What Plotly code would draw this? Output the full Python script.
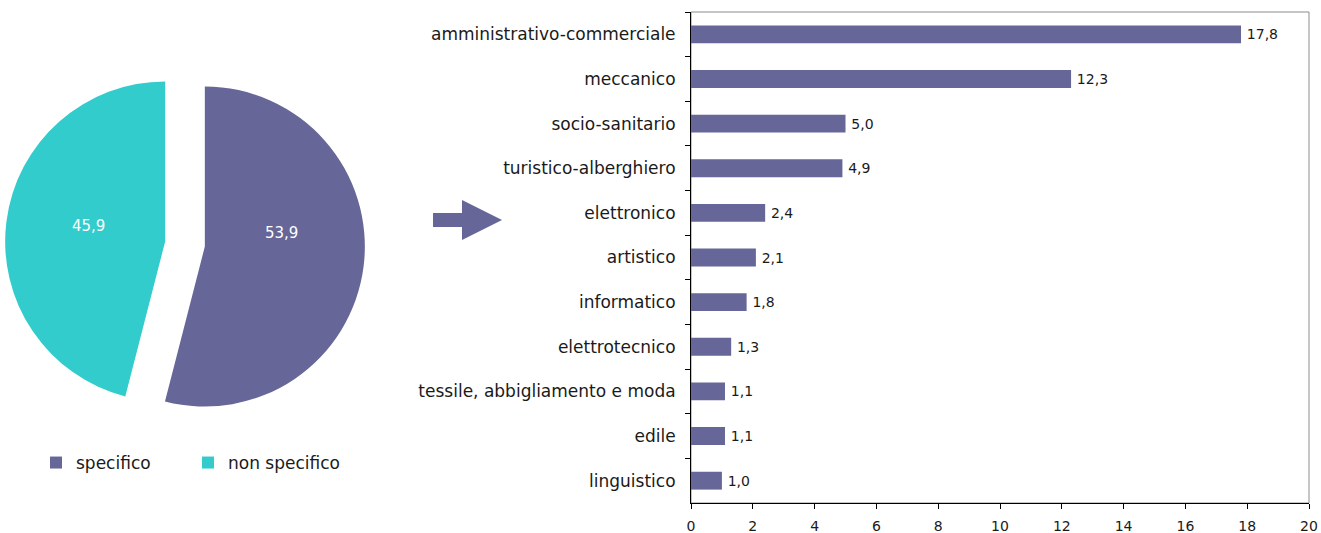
import plotly.graph_objects as go

# Share of students by type of diploma
pie_labels = ["specifico", "non specifico"]
pie_values = [53.9, 45.9]
pie_colors = ["#666699", "#33CCCC"]

# Breakdown of the "specifico" share by field
fields = [
    "amministrativo-commerciale",
    "meccanico",
    "socio-sanitario",
    "turistico-alberghiero",
    "elettronico",
    "artistico",
    "informatico",
    "elettrotecnico",
    "tessile, abbigliamento e moda",
    "edile",
    "linguistico",
]
field_values = [17.8, 12.3, 5.0, 4.9, 2.4, 2.1, 1.8, 1.3, 1.1, 1.1, 1.0]
x_ticks = list(range(0, 21, 2))

W, H = 1321, 533
FONT = "DejaVu Sans"
TEXT = "#1a1a1a"
PURPLE = "#666699"


def fmt(v):
    return f"{v:.1f}".replace(".", ",")


def px(x, y):
    """Pixel position -> paper coordinates."""
    return x / W, 1 - y / H


fig = go.Figure()

fig.add_trace(go.Pie(
    labels=pie_labels,
    values=pie_values,
    textinfo="none",
    marker=dict(colors=pie_colors, line=dict(width=0)),
    sort=False,
    direction="clockwise",
    rotation=0,
    pull=[0.125, 0.125],
    domain=dict(x=[5 / W, 365 / W], y=[1 - 426 / H, 1 - 62 / H]),
    hoverinfo="label+value",
    showlegend=True,
))

fig.add_trace(go.Bar(
    x=field_values,
    y=fields,
    orientation="h",
    width=0.4,
    marker=dict(color=PURPLE, line=dict(width=0)),
    text=["\u2009" + fmt(v) for v in field_values],
    textposition="outside",
    textfont=dict(family=FONT, size=14, color=TEXT),
    cliponaxis=False,
    showlegend=False,
    xaxis="x",
    yaxis="y",
))

# Slice value labels placed on each slice
pie_label_pos = [(281, 233), (88, 226)]
annotations = []
for v, (ax, ay) in zip(pie_values, pie_label_pos):
    xp, yp = px(ax, ay)
    annotations.append(dict(
        x=xp, y=yp, xref="paper", yref="paper", text=fmt(v), showarrow=False,
        font=dict(family=FONT, size=15, color="white"),
        xanchor="center", yanchor="middle",
    ))

# Arrow leading from the pie to the breakdown
pts = [(433, 213), (462, 213), (462, 200), (502, 220), (462, 240), (462, 227), (433, 227)]
path = "M " + " L ".join(f"{px(a, b)[0]:.5f},{px(a, b)[1]:.5f}" for a, b in pts) + " Z"

fig.update_layout(
    width=W,
    height=H,
    margin=dict(l=0, r=0, t=0, b=0, autoexpand=False),
    paper_bgcolor="white",
    plot_bgcolor="white",
    font=dict(family=FONT, color=TEXT),
    xaxis=dict(
        domain=[691 / W, 1309 / W],
        range=[0, 20],
        tickvals=x_ticks,
        ticktext=[str(t) for t in x_ticks],
        ticks="outside",
        ticklen=5,
        tickcolor="black",
        showline=True,
        linecolor="black",
        linewidth=1,
        showgrid=False,
        zeroline=False,
        automargin=False,
        tickfont=dict(family=FONT, size=14, color=TEXT),
        ticklabelstandoff=5,
        fixedrange=True,
    ),
    yaxis=dict(
        domain=[1 - 503 / H, 1 - 12 / H],
        autorange="reversed",
        type="category",
        ticks="outside",
        tickson="boundaries",
        ticklen=5,
        tickcolor="black",
        showline=True,
        linecolor="black",
        linewidth=1,
        showgrid=False,
        zeroline=False,
        automargin=False,
        tickfont=dict(family=FONT, size=17, color=TEXT),
        ticklabelstandoff=11,
        fixedrange=True,
    ),
    legend=dict(
        orientation="h",
        x=36 / W,
        xanchor="left",
        y=1 - 463 / H,
        yanchor="middle",
        font=dict(family=FONT, size=17, color=TEXT),
        entrywidth=107,
        itemwidth=30,
        bgcolor="rgba(0,0,0,0)",
    ),
    annotations=annotations,
    shapes=[
        dict(type="rect", xref="x domain", yref="y domain", x0=0, x1=1, y0=0, y1=1,
             line=dict(color="#8c8c8c", width=1), layer="below"),
        dict(type="path", xref="paper", yref="paper", path=path,
             fillcolor=PURPLE, line=dict(width=0)),
    ],
)

fig.write_html("out.html")
